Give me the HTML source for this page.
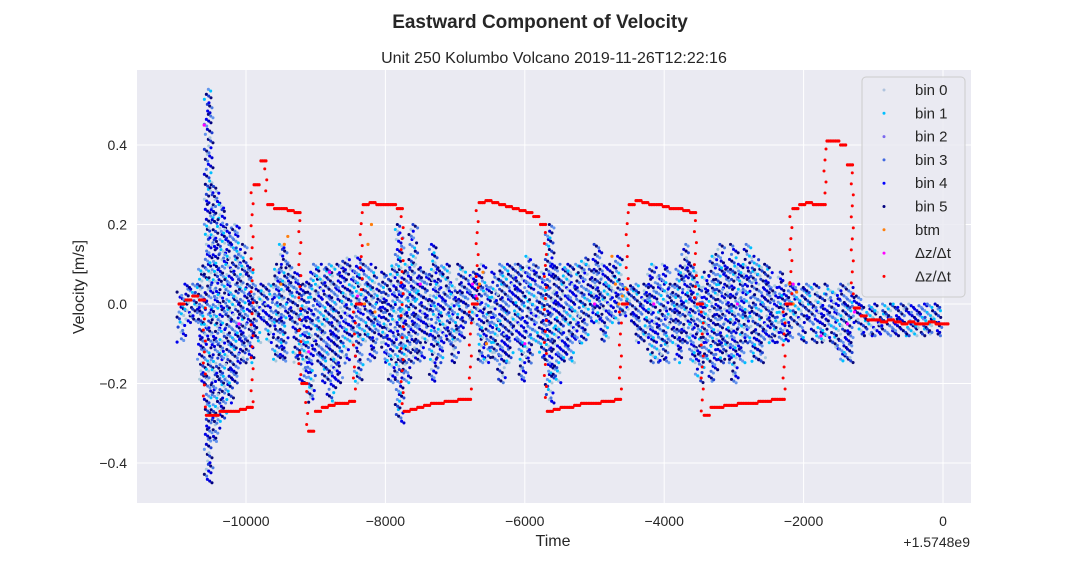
<!DOCTYPE html>
<html><head><meta charset="utf-8">
<style>
body{margin:0;background:#fff;font-family:"Liberation Sans",Arial,sans-serif;}
svg text{font-family:"Liberation Sans",Arial,sans-serif;fill:#262626;}
</style></head>
<body>
<svg id="chart" width="1080" height="576" viewBox="0 0 1080 576">
<text x="540" y="28" text-anchor="middle" font-size="19" font-weight="bold">Eastward Component of Velocity</text>
<text x="554" y="63" text-anchor="middle" font-size="16">Unit 250 Kolumbo Volcano 2019-11-26T12:22:16</text>
<rect x="137" y="70" width="834" height="433" fill="#eaeaf2"/>
<g id="grid"></g>
<g id="marks"></g>
<g id="ticks"></g>
<text x="553" y="546" text-anchor="middle" font-size="16">Time</text>
<text x="84" y="287" text-anchor="middle" font-size="16" transform="rotate(-90 84 287)">Velocity [m/s]</text>
<text x="970" y="547" text-anchor="end" font-size="14">+1.5748e9</text>
<g id="legend"></g>
</svg>
<script>
const xTicks=[-10000,-8000,-6000,-4000,-2000,0];
const yTicks=[-0.4,-0.2,0.0,0.2,0.4];
const redStart=-10960, step=97.85;
const redVals=[0.0,0.01,0.02,0.01,-0.28,-0.28,-0.27,-0.27,-0.27,-0.265,-0.26,0.30,0.36,0.25,0.24,0.24,0.235,0.23,-0.2,-0.32,-0.27,-0.26,-0.255,-0.25,-0.25,-0.245,0.0,0.25,0.255,0.25,0.25,0.25,0.24,-0.27,-0.265,-0.26,-0.255,-0.25,-0.25,-0.245,-0.245,-0.24,-0.24,0.0,0.255,0.26,0.255,0.25,0.245,0.24,0.235,0.23,0.22,0.2,-0.27,-0.265,-0.26,-0.26,-0.255,-0.25,-0.25,-0.25,-0.245,-0.245,-0.24,0.0,0.25,0.26,0.255,0.25,0.25,0.245,0.24,0.24,0.235,0.23,0.0,-0.28,-0.26,-0.26,-0.255,-0.255,-0.25,-0.25,-0.25,-0.245,-0.245,-0.24,-0.24,0.0,0.24,0.25,0.255,0.25,0.25,0.41,0.41,0.40,0.35,-0.01,-0.03,-0.04,-0.04,-0.045,-0.04,-0.045,-0.05,-0.045,-0.05,-0.05,-0.045,-0.05,-0.05];
const binLo=[-0.1,-0.05,-0.05,-0.2,-0.45,-0.35,-0.3,-0.25,-0.2,-0.15,-0.15,-0.1,-0.05,-0.1,-0.15,-0.15,-0.05,-0.15,-0.2,-0.25,-0.15,-0.2,-0.25,-0.2,-0.15,-0.1,-0.2,-0.1,-0.15,-0.1,-0.15,-0.2,-0.3,-0.2,-0.15,-0.15,-0.1,-0.2,-0.15,-0.1,-0.15,-0.1,-0.05,-0.05,-0.15,-0.15,-0.15,-0.2,-0.15,-0.1,-0.2,-0.15,-0.1,-0.15,-0.25,-0.2,-0.15,-0.15,-0.1,-0.1,-0.05,-0.05,-0.1,-0.05,-0.05,-0.03,-0.05,-0.1,-0.1,-0.15,-0.15,-0.15,-0.1,-0.15,-0.1,-0.15,-0.2,-0.15,-0.2,-0.15,-0.15,-0.2,-0.15,-0.1,-0.15,-0.15,-0.1,-0.1,-0.1,-0.1,-0.05,-0.1,-0.05,-0.1,-0.1,-0.1,-0.12,-0.15,-0.15,-0.05,-0.08,-0.08,-0.08,-0.08,-0.08,-0.08,-0.08,-0.08,-0.08,-0.08,-0.08,-0.08];
const binHi=[0.03,0.05,0.05,0.1,0.54,0.3,0.25,0.2,0.2,0.15,0.1,0.05,0.05,0.05,0.1,0.15,0.1,0.08,0.05,0.08,0.1,0.1,0.1,0.1,0.12,0.1,0.12,0.1,0.1,0.05,0.08,0.1,0.2,0.1,0.2,0.1,0.08,0.15,0.1,0.1,0.05,0.1,0.08,0.08,0.1,0.05,0.08,0.1,0.1,0.1,0.1,0.12,0.1,0.08,0.2,0.1,0.1,0.1,0.1,0.12,0.1,0.15,0.1,0.1,0.12,0.05,0.05,0.05,0.05,0.1,0.08,0.1,0.05,0.1,0.15,0.1,0.05,0.08,0.12,0.15,0.1,0.15,0.1,0.15,0.12,0.1,0.1,0.05,0.08,0.05,0.05,0.05,0.05,0.05,0.03,0.05,0.03,0.05,0.05,0.02,0.0,0.0,0.0,0.0,0.0,0.0,0.0,0.0,0.0,0.0,0.0,0.0];
const btmT=[-9500,-9450,-9400,-8300,-8250,-8200,-8150,-6650,-6600,-6550,-4750,-4700,-4650,-4600,-4550,-2200,-2150,-2100];
const btmV=[0.05,0.15,0.17,0.0,0.15,0.2,-0.02,0.05,0.08,-0.1,0.12,0.05,0.0,0.02,0.04,0.05,0.0,0.03];
const magT=[-10600,-10100,-9100,-8800,-8400,-7500,-6750,-6700,-6000,-5000,-4150,-2950,-2150,-1750,-1370,-1270];
const magV=[0.45,-0.05,-0.12,0.08,0.02,0.05,0.05,0.02,-0.1,0.0,0.0,0.0,0.05,-0.08,-0.05,-0.02];

const X=t=>943+t*0.0697, Y=v=>304-v*397.5;
const NS="http://www.w3.org/2000/svg";
const grid=document.getElementById('grid'),ticks=document.getElementById('ticks'),marks=document.getElementById('marks');
xTicks.forEach(t=>{
 const l=document.createElementNS(NS,'line');l.setAttribute('x1',X(t));l.setAttribute('x2',X(t));l.setAttribute('y1',70);l.setAttribute('y2',503);l.setAttribute('stroke','#fff');
 
 grid.appendChild(l);
 const tx=document.createElementNS(NS,'text');tx.setAttribute('x',X(t));tx.setAttribute('y',526);tx.setAttribute('text-anchor','middle');tx.setAttribute('font-size','14');tx.textContent=t<0?'\u2212'+Math.abs(t):String(t);
 
 ticks.appendChild(tx);
});
yTicks.forEach(v=>{
 const l=document.createElementNS(NS,'line');l.setAttribute('x1',137);l.setAttribute('x2',971);l.setAttribute('y1',Y(v));l.setAttribute('y2',Y(v));l.setAttribute('stroke','#fff');
 
 grid.appendChild(l);
 const tx=document.createElementNS(NS,'text');tx.setAttribute('x',127);tx.setAttribute('y',Y(v)+5);tx.setAttribute('text-anchor','end');tx.setAttribute('font-size','14');tx.textContent=(v<0?'\u2212':'')+Math.abs(v).toFixed(1);
 
 ticks.appendChild(tx);
});
function dot(x,y,c,name,r){const e=document.createElementNS(NS,'circle');e.setAttribute('cx',x);e.setAttribute('cy',y);e.setAttribute('r',r||1.3);e.setAttribute('fill',c);
 
 marks.appendChild(e);}
const binCols=['#0b0b7a','#0000ee','#4a78e0','#0000cc','#6495ed','#000080','#00bfff','#1f3fd0','#a8c8dc'];
binLo.forEach((lo,i)=>{
 const t=redStart+i*step, hi=binHi[i];
 for(let k=0;k<3;k++){
  const x=X(t+k*33);
  const y0=Y(hi),y1=Y(lo);
  let n=0;
  for(let y=y0+k*1.7;y<=y1;y+=5){
   if((n*5+k*3+i)%7!==3) dot(x+((n*3+k*5+i)%5)-2,y,binCols[(n+k*2+i)%9],'bin-point',1.55);
   n++;}
 }
});
btmT.forEach((t,i)=>dot(X(t),Y(btmV[i]),'#ff7f0e','btm-point',1.6));
magT.forEach((t,i)=>dot(X(t),Y(magV[i]),'#ff00ff','dzdt-magenta-point',1.6));
redVals.forEach((v,i)=>{const t=redStart+i*step;for(let k=0;k<4;k++)dot(X(t+k*24),Y(v),'#ff0000','dzdt-red-point',1.6);
 if(i>0){const p=redVals[i-1];if(Math.abs(v-p)>0.1){const x=X(t)-2;const a=Math.min(Y(v),Y(p)),b=Math.max(Y(v),Y(p));for(let y=a+8;y<b-4;y+=11)dot(x+((y|0)%3)-1,y,'#ff0000','dzdt-red-point',1.5);}}
});
const leg=document.getElementById('legend');
const box=document.createElementNS(NS,'rect');box.setAttribute('x',862);box.setAttribute('y',77);box.setAttribute('width',103);box.setAttribute('height',220);box.setAttribute('rx',4);box.setAttribute('fill','#eaeaf2');box.setAttribute('fill-opacity','0.85');box.setAttribute('stroke','#ccc');

leg.appendChild(box);
const legLabels=['bin 0','bin 1','bin 2','bin 3','bin 4','bin 5','btm','\u0394z/\u0394t','\u0394z/\u0394t'];
const legCols=['#b0c4de','#00bfff','#7b68ee','#4169e1','#0000ff','#000080','#ff7f0e','#ff00ff','#ff0000'];
legLabels.forEach((s,i)=>{
 const y=90+i*23.3;
 const c=document.createElementNS(NS,'circle');c.setAttribute('cx',884);c.setAttribute('cy',y);c.setAttribute('r',1.5);c.setAttribute('fill',legCols[i]);
 
 leg.appendChild(c);
 const tx=document.createElementNS(NS,'text');tx.setAttribute('x',915);tx.setAttribute('y',y+5);tx.setAttribute('font-size','15');tx.textContent=s;
 
 leg.appendChild(tx);
});
</script>
</body></html>
